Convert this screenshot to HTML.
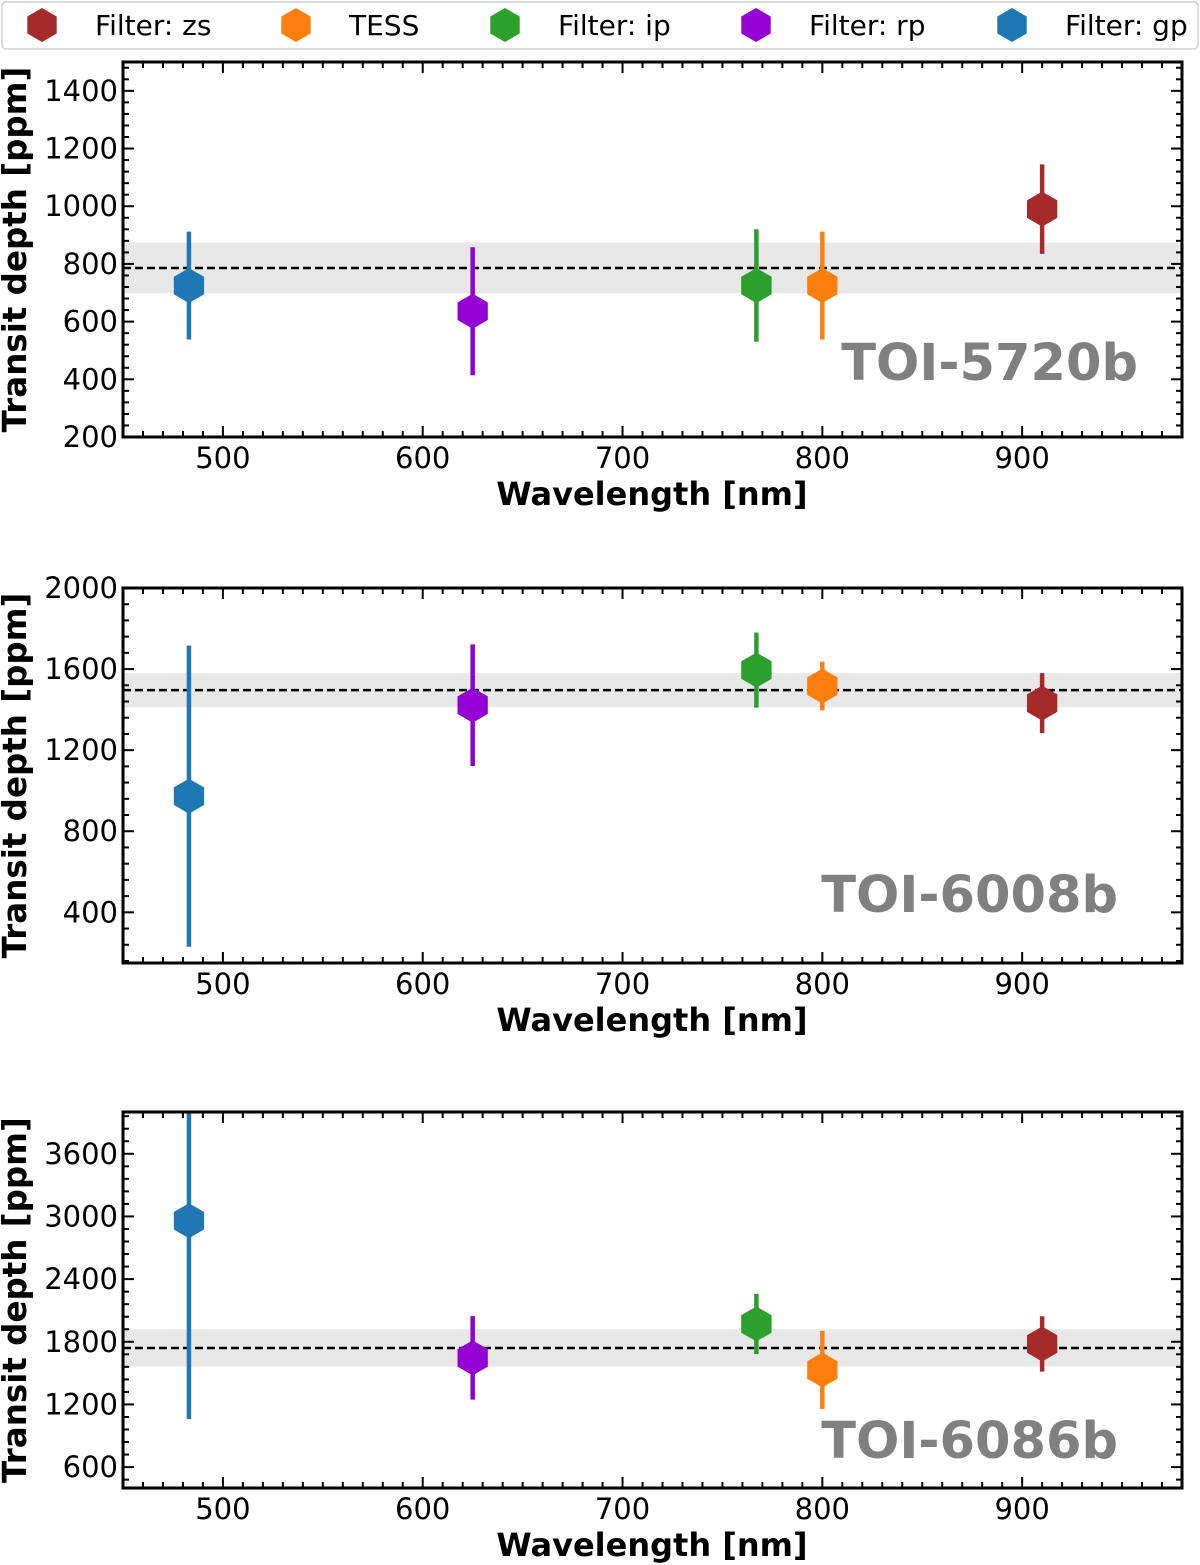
<!DOCTYPE html>
<html><head><meta charset="utf-8"><style>
html,body{margin:0;padding:0;background:#fff;}
svg{display:block;font-family:"DejaVu Sans","Liberation Sans",sans-serif;}
</style></head><body>
<svg id="fig" width="1200" height="1565" viewBox="0 0 1200 1565" xmlns="http://www.w3.org/2000/svg"></svg>
<script>
const filters = ["gp","rp","ip","TESS","zs"];
const wavelengths = [483,625,767,800,910];
const colors = {gp:"#1f77b4",rp:"#9400d3",ip:"#2ca02c",TESS:"#ff7f0e",zs:"#a52a2a"};
const planets = ["TOI-5720b","TOI-6008b","TOI-6086b"];
const depth5720 = [725,636,725,725,990];
const err5720 = [187,222,195,187,155];
const depth6008 = [973,1422,1595,1516,1432];
const err6008 = [743,300,185,120,148];
const depth6086 = [2959,1646,1971,1530,1779];
const err6086 = [1900,400,288,374,265];
const means = [786,1496,1741];
const meanErr = [88,84,178];
const yTicks5720 = [200,400,600,800,1000,1200,1400];
const yTicks6008 = [400,800,1200,1600,2000];
const yTicks6086 = [600,1200,1800,2400,3000,3600];
const xTicks = [500,600,700,800,900];
const legendOrder = ["zs","TESS","ip","rp","gp"];
const legendLabels = ["Filter: zs","TESS","Filter: ip","Filter: rp","Filter: gp"];

const NS="http://www.w3.org/2000/svg";
const svg=document.getElementById('fig');
function mk(tag,attrs,parent){const e=document.createElementNS(NS,tag);for(const k in attrs)e.setAttribute(k,attrs[k]);(parent||svg).appendChild(e);return e;}
function hex(cx,cy,r){let p=[];for(let i=0;i<6;i++){const a=Math.PI/180*(60*i-90);p.push((cx+r*Math.cos(a)).toFixed(1)+","+(cy+r*Math.sin(a)).toFixed(1));}return p.join(" ");}

const panels=[
 {top:62,bot:437,ymin:200,ymax:1500,d:depth5720,e:err5720,ticks:yTicks5720,minor:40,labX:1138,labY:380},
 {top:588,bot:963,ymin:150,ymax:2000,d:depth6008,e:err6008,ticks:yTicks6008,minor:80,labX:1118,labY:912},
 {top:1112,bot:1488,ymin:400,ymax:4000,d:depth6086,e:err6086,ticks:yTicks6086,minor:120,labX:1118,labY:1458}
];
const L=123,R=1182,xmin=450,xmax=980;
panels.forEach((p,pi)=>{
  const g=mk('g',{});
  
  
  const X=v=>L+(v-xmin)/(xmax-xmin)*(R-L);
  const Y=v=>p.bot-(v-p.ymin)/(p.ymax-p.ymin)*(p.bot-p.top);
  const clip=mk('clipPath',{id:'c'+pi},g);
  mk('rect',{x:L,y:p.top,width:R-L,height:p.bot-p.top},clip);
  const inner=mk('g',{'clip-path':'url(#c'+pi+')'},g);
  const band=mk('rect',{x:L,y:Y(means[pi]+meanErr[pi]),width:R-L,height:Y(means[pi]-meanErr[pi])-Y(means[pi]+meanErr[pi]),fill:"#e8e8e8"},inner);
  
  
  const ml=mk('line',{x1:L,x2:R,y1:Y(means[pi]),y2:Y(means[pi]),stroke:"#000","stroke-width":2.5,"stroke-dasharray":"8,4"},inner);
  
  
  filters.forEach((f,i)=>{
    const x=X(wavelengths[i]);
    const eb=mk('line',{x1:x,x2:x,y1:Y(p.d[i]-p.e[i]),y2:Y(p.d[i]+p.e[i]),stroke:colors[f],"stroke-width":4.5},inner);
    
    
    const pt=mk('polygon',{points:hex(x,Y(p.d[i]),17.5),fill:colors[f]},inner);
    
    
  });
  for(let v=450;v<=xmax;v+=10){const x=X(v);const maj=v%100===0;const len=maj?11:6;
    mk('line',{x1:x,x2:x,y1:p.bot,y2:p.bot-len,stroke:"#000","stroke-width":2},g);
    mk('line',{x1:x,x2:x,y1:p.top,y2:p.top+len,stroke:"#000","stroke-width":2},g);}
  xTicks.forEach(v=>{const t=mk('text',{x:X(v),y:p.bot+31,'text-anchor':'middle','font-size':29},g);t.textContent=v;
    });
  for(let v=Math.ceil(p.ymin/p.minor)*p.minor;v<=p.ymax;v+=p.minor){const y=Y(v);
    const maj=p.ticks.includes(v);const len=maj?11:6;
    mk('line',{x1:L,x2:L+len,y1:y,y2:y,stroke:"#000","stroke-width":2},g);
    mk('line',{x1:R,x2:R-len,y1:y,y2:y,stroke:"#000","stroke-width":2},g);}
  p.ticks.forEach(v=>{const t=mk('text',{x:L-5,y:Y(v)+10,'text-anchor':'end','font-size':29},g);t.textContent=v;
    });
  const fr=mk('rect',{x:L,y:p.top,width:R-L,height:p.bot-p.top,fill:"none",stroke:"#000","stroke-width":3},g);
  
  const xl=mk('text',{x:652,y:p.bot+68,'text-anchor':'middle','font-size':32,'font-weight':'bold'},g);xl.textContent="Wavelength [nm]";
  
  const cy=(p.top+p.bot)/2;
  const yl=mk('text',{x:0,y:0,'text-anchor':'middle','font-size':32.5,'font-weight':'bold',transform:`translate(26,${cy}) rotate(-90)`},g);yl.textContent="Transit depth [ppm]";
  
  const pl=mk('text',{x:p.labX,y:p.labY,'text-anchor':'end','font-size':51,'font-weight':'bold',fill:'#808080'},g);pl.textContent=planets[pi];
  
});
const lg=mk('g',{});


mk('rect',{x:2,y:2,width:1196,height:47,rx:4,fill:"#fff",stroke:"#d0d0d0","stroke-width":1.5},lg);
const lx=[42,296,505,756,1012], tx=[95,349,558,809,1065];
legendOrder.forEach((f,i)=>{
  const e=mk('g',{},lg);
  
  
  mk('polygon',{points:hex(lx[i],25,17),fill:colors[f]},e);
  const t=mk('text',{x:tx[i],y:35,'font-size':28},e);t.textContent=legendLabels[i];
});
</script>
</body></html>
